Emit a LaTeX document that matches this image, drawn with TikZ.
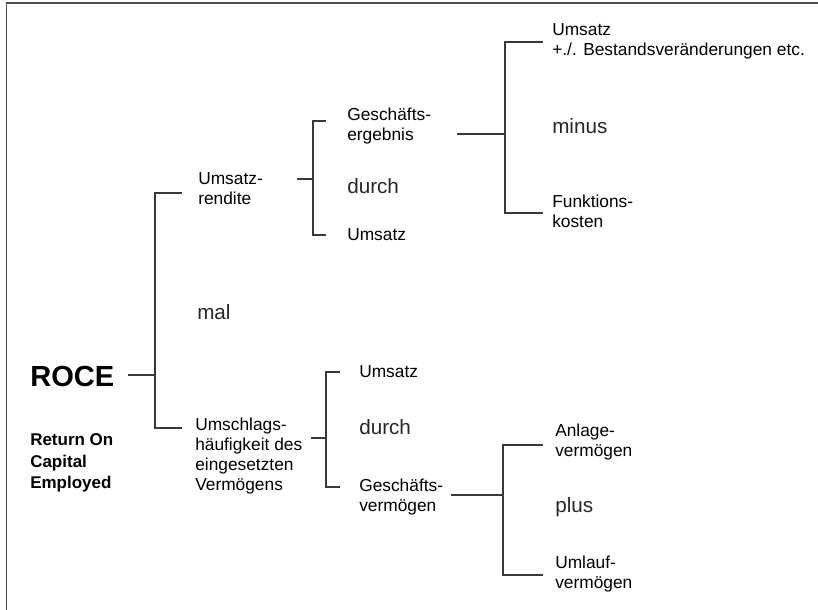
\documentclass[tikz,border=0pt]{standalone}
\usepackage{fontspec}
\setmainfont{Liberation Sans}
\begin{document}
\begin{tikzpicture}[x=0.75pt,y=-0.75pt,
  lbl/.style={anchor=west,inner sep=0pt,align=left,font=\fontsize{13}{15}\selectfont},
  op/.style={anchor=west,inner sep=0pt,font=\fontsize{15.5}{18}\selectfont,text=black!85},
  conn/.style={draw=black!78,line width=0.9pt}]
\useasboundingbox (0,0) rectangle (818,610);
\draw[draw=black!70,line width=1.3pt] (6.5,610) -- (6.5,3) -- (818,3);
% nodes
\node[anchor=west,inner sep=0pt,font=\fontsize{21.8}{25}\selectfont\bfseries] (roce) at (30,376) {ROCE};
\node[anchor=west,inner sep=0pt,align=left,font=\fontsize{12.75}{16}\selectfont\bfseries] (rocefull) at (30,463) {Return On\\Capital\\Employed};
\node[lbl] (ur) at (198,189) {Umsatz-\\rendite};
\node[op] (mal) at (197,312) {mal};
\node[lbl] (ush) at (195,456) {Umschlags-\\häufigkeit des\\eingesetzten\\Vermögens};
\node[lbl] (ge) at (347,126) {Geschäfts-\\ergebnis};
\node[op] (d1) at (347,186) {durch};
\node[lbl] (u1) at (347,235) {Umsatz};
\node[lbl] (ub) at (552,41) {Umsatz\\+./. Bestandsveränderungen etc.};
\node[op] (minus) at (552,126) {minus};
\node[lbl] (fk) at (552,211) {Funktions-\\kosten};
\node[lbl] (u2) at (359,372) {Umsatz};
\node[op] (d2) at (359,427) {durch};
\node[lbl] (gv) at (359,497) {Geschäfts-\\vermögen};
\node[lbl] (av) at (555,442) {Anlage-\\vermögen};
\node[op] (plus) at (555,507) {plus};
\node[lbl] (ulv) at (555,574) {Umlauf-\\vermögen};
% bracket coordinates
\coordinate (r0) at (128,375); \coordinate (b1m) at (155,375);
\coordinate (b1t) at (182,193); \coordinate (b1b) at (182,428);
\coordinate (s0) at (297,179); \coordinate (b2m) at (313,179);
\coordinate (b2t) at (326,121); \coordinate (b2b) at (326,235);
\coordinate (g0) at (457,134); \coordinate (b3m) at (505,134);
\coordinate (b3t) at (543,42); \coordinate (b3b) at (543,213);
\coordinate (h0) at (311,438); \coordinate (b4m) at (326,438);
\coordinate (b4t) at (340,372); \coordinate (b4b) at (340,487);
\coordinate (v0) at (451,495); \coordinate (b5m) at (503,495);
\coordinate (b5t) at (543,445); \coordinate (b5b) at (543,575);
% connectors
\draw[conn] (r0) -- (b1m); \draw[conn] (b1t) -| (b1m) |- (b1b);
\draw[conn] (s0) -- (b2m); \draw[conn] (b2t) -| (b2m) |- (b2b);
\draw[conn] (g0) -- (b3m); \draw[conn] (b3t) -| (b3m) |- (b3b);
\draw[conn] (h0) -- (b4m); \draw[conn] (b4t) -| (b4m) |- (b4b);
\draw[conn] (v0) -- (b5m); \draw[conn] (b5t) -| (b5m) |- (b5b);
\end{tikzpicture}
\end{document}
